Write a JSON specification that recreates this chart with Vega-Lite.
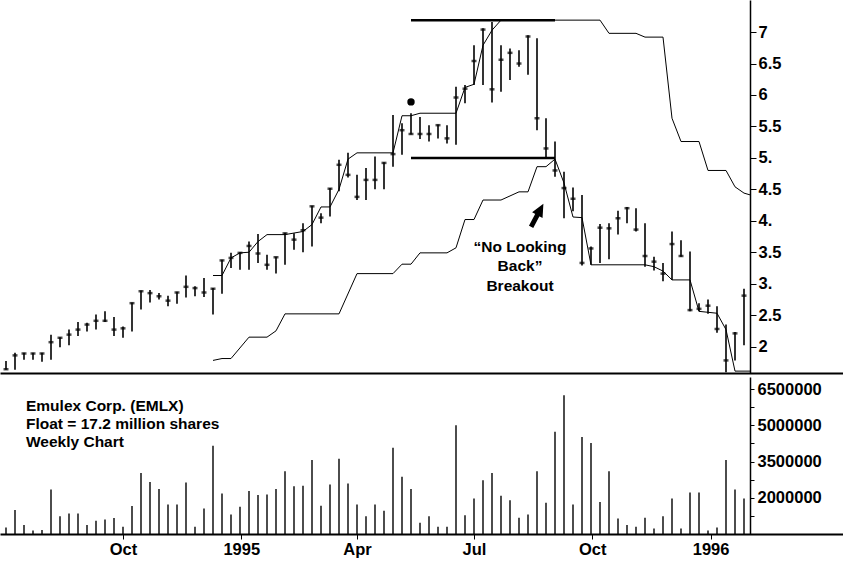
{
  "$schema": "https://vega.github.io/schema/vega-lite/v6.json",
  "padding": 0,
  "background": "white",
  "spacing": 3,
  "config": {
    "view": {"stroke": null},
    "font": "Liberation Sans, Arial, sans-serif",
    "axis": {"grid": false, "domainColor": "black", "tickColor": "black", "labelColor": "black", "labelFont": "Liberation Sans, Arial, sans-serif", "labelFontWeight": "bold", "labelFontSize": 16.5, "title": null, "labelOverlap": false, "labelBound": false}
  },
  "datasets": {
    "bars": [
      {"d": "1994-07-02", "h": 1.77, "l": 1.63, "c": 1.64, "v": 770000},
      {"d": "1994-07-09", "h": 1.90, "l": 1.63, "c": 1.86, "v": 1490000},
      {"d": "1994-07-16", "h": 1.90, "l": 1.79, "c": 1.89, "v": 870000},
      {"d": "1994-07-23", "h": 1.90, "l": 1.79, "c": 1.89, "v": 640000},
      {"d": "1994-07-30", "h": 1.90, "l": 1.76, "c": 1.89, "v": 670000},
      {"d": "1994-08-06", "h": 2.19, "l": 1.79, "c": 2.07, "v": 2340000},
      {"d": "1994-08-13", "h": 2.15, "l": 1.99, "c": 2.14, "v": 1240000},
      {"d": "1994-08-20", "h": 2.27, "l": 2.02, "c": 2.19, "v": 1350000},
      {"d": "1994-08-27", "h": 2.39, "l": 2.17, "c": 2.27, "v": 1350000},
      {"d": "1994-09-03", "h": 2.38, "l": 2.24, "c": 2.35, "v": 870000},
      {"d": "1994-09-10", "h": 2.51, "l": 2.27, "c": 2.41, "v": 1050000},
      {"d": "1994-09-17", "h": 2.56, "l": 2.39, "c": 2.41, "v": 1100000},
      {"d": "1994-09-24", "h": 2.47, "l": 2.17, "c": 2.27, "v": 1160000},
      {"d": "1994-10-01", "h": 2.32, "l": 2.14, "c": 2.29, "v": 800000},
      {"d": "1994-10-08", "h": 2.70, "l": 2.24, "c": 2.69, "v": 1660000},
      {"d": "1994-10-15", "h": 2.89, "l": 2.59, "c": 2.88, "v": 3030000},
      {"d": "1994-10-22", "h": 2.90, "l": 2.70, "c": 2.85, "v": 2650000},
      {"d": "1994-10-29", "h": 2.85, "l": 2.75, "c": 2.80, "v": 2360000},
      {"d": "1994-11-05", "h": 2.81, "l": 2.64, "c": 2.73, "v": 1720000},
      {"d": "1994-11-12", "h": 2.87, "l": 2.68, "c": 2.86, "v": 1720000},
      {"d": "1994-11-19", "h": 3.13, "l": 2.78, "c": 2.95, "v": 2630000},
      {"d": "1994-11-26", "h": 2.96, "l": 2.80, "c": 2.93, "v": 800000},
      {"d": "1994-12-03", "h": 3.09, "l": 2.79, "c": 2.86, "v": 1560000},
      {"d": "1994-12-10", "h": 2.93, "l": 2.51, "c": 2.92, "v": 4150000},
      {"d": "1994-12-17", "h": 3.38, "l": 2.84, "c": 3.37, "v": 2180000},
      {"d": "1994-12-24", "h": 3.49, "l": 3.25, "c": 3.41, "v": 1310000},
      {"d": "1994-12-31", "h": 3.50, "l": 3.22, "c": 3.49, "v": 1630000},
      {"d": "1995-01-07", "h": 3.67, "l": 3.22, "c": 3.60, "v": 2280000},
      {"d": "1995-01-14", "h": 3.79, "l": 3.33, "c": 3.48, "v": 2110000},
      {"d": "1995-01-21", "h": 3.46, "l": 3.22, "c": 3.30, "v": 2140000},
      {"d": "1995-01-28", "h": 3.43, "l": 3.16, "c": 3.42, "v": 2360000},
      {"d": "1995-02-04", "h": 3.81, "l": 3.30, "c": 3.80, "v": 3100000},
      {"d": "1995-02-11", "h": 3.80, "l": 3.54, "c": 3.70, "v": 2480000},
      {"d": "1995-02-18", "h": 3.96, "l": 3.50, "c": 3.85, "v": 2500000},
      {"d": "1995-02-25", "h": 4.24, "l": 3.59, "c": 4.23, "v": 3560000},
      {"d": "1995-03-04", "h": 4.12, "l": 3.96, "c": 4.05, "v": 1670000},
      {"d": "1995-03-11", "h": 4.52, "l": 4.07, "c": 4.51, "v": 2550000},
      {"d": "1995-03-18", "h": 4.97, "l": 4.47, "c": 4.89, "v": 3620000},
      {"d": "1995-03-25", "h": 5.08, "l": 4.69, "c": 4.73, "v": 2590000},
      {"d": "1995-04-01", "h": 4.73, "l": 4.33, "c": 4.38, "v": 1720000},
      {"d": "1995-04-08", "h": 4.84, "l": 4.33, "c": 4.65, "v": 1240000},
      {"d": "1995-04-15", "h": 5.02, "l": 4.50, "c": 4.65, "v": 1720000},
      {"d": "1995-04-22", "h": 4.93, "l": 4.50, "c": 4.92, "v": 1460000},
      {"d": "1995-04-29", "h": 5.68, "l": 4.86, "c": 5.06, "v": 4070000},
      {"d": "1995-05-06", "h": 5.55, "l": 5.05, "c": 5.44, "v": 2870000},
      {"d": "1995-05-13", "h": 5.71, "l": 5.37, "c": 5.38, "v": 2360000},
      {"d": "1995-05-20", "h": 5.65, "l": 5.30, "c": 5.38, "v": 970000},
      {"d": "1995-05-27", "h": 5.52, "l": 5.26, "c": 5.38, "v": 1240000},
      {"d": "1995-06-03", "h": 5.53, "l": 5.31, "c": 5.52, "v": 800000},
      {"d": "1995-06-10", "h": 5.52, "l": 5.23, "c": 5.31, "v": 800000},
      {"d": "1995-06-17", "h": 6.13, "l": 5.21, "c": 5.96, "v": 5000000},
      {"d": "1995-06-24", "h": 6.16, "l": 5.87, "c": 6.10, "v": 1280000},
      {"d": "1995-07-01", "h": 6.79, "l": 6.16, "c": 6.54, "v": 1970000},
      {"d": "1995-07-08", "h": 7.06, "l": 6.16, "c": 7.04, "v": 2730000},
      {"d": "1995-07-15", "h": 7.16, "l": 5.88, "c": 6.09, "v": 3030000},
      {"d": "1995-07-22", "h": 6.79, "l": 6.05, "c": 6.56, "v": 2080000},
      {"d": "1995-07-29", "h": 6.74, "l": 6.24, "c": 6.67, "v": 1900000},
      {"d": "1995-08-05", "h": 6.71, "l": 6.45, "c": 6.50, "v": 1170000},
      {"d": "1995-08-12", "h": 6.95, "l": 6.32, "c": 6.93, "v": 1310000},
      {"d": "1995-08-19", "h": 6.90, "l": 5.44, "c": 5.63, "v": 3100000},
      {"d": "1995-08-26", "h": 5.63, "l": 5.00, "c": 5.15, "v": 1790000},
      {"d": "1995-09-02", "h": 5.26, "l": 4.70, "c": 4.80, "v": 4730000},
      {"d": "1995-09-09", "h": 4.78, "l": 4.04, "c": 4.52, "v": 6240000},
      {"d": "1995-09-16", "h": 4.53, "l": 4.15, "c": 4.35, "v": 1720000},
      {"d": "1995-09-23", "h": 4.41, "l": 3.29, "c": 3.33, "v": 4520000},
      {"d": "1995-09-30", "h": 3.59, "l": 3.30, "c": 3.56, "v": 4270000},
      {"d": "1995-10-07", "h": 3.95, "l": 3.33, "c": 3.89, "v": 1830000},
      {"d": "1995-10-14", "h": 3.96, "l": 3.39, "c": 3.88, "v": 3100000},
      {"d": "1995-10-21", "h": 4.16, "l": 3.78, "c": 4.04, "v": 1140000},
      {"d": "1995-10-28", "h": 4.22, "l": 3.96, "c": 4.20, "v": 870000},
      {"d": "1995-11-04", "h": 4.20, "l": 3.83, "c": 3.86, "v": 800000},
      {"d": "1995-11-11", "h": 3.96, "l": 3.27, "c": 3.44, "v": 1170000},
      {"d": "1995-11-18", "h": 3.43, "l": 3.21, "c": 3.35, "v": 730000},
      {"d": "1995-11-25", "h": 3.33, "l": 3.04, "c": 3.16, "v": 1240000},
      {"d": "1995-12-02", "h": 3.83, "l": 3.06, "c": 3.63, "v": 1970000},
      {"d": "1995-12-09", "h": 3.69, "l": 3.43, "c": 3.44, "v": 730000},
      {"d": "1995-12-16", "h": 3.51, "l": 2.56, "c": 2.58, "v": 2220000},
      {"d": "1995-12-23", "h": 2.69, "l": 2.56, "c": 2.60, "v": 2220000},
      {"d": "1995-12-30", "h": 2.75, "l": 2.52, "c": 2.65, "v": 640000},
      {"d": "1996-01-06", "h": 2.64, "l": 2.22, "c": 2.28, "v": 770000},
      {"d": "1996-01-13", "h": 2.35, "l": 1.59, "c": 1.78, "v": 3560000},
      {"d": "1996-01-20", "h": 2.23, "l": 1.78, "c": 2.21, "v": 2340000},
      {"d": "1996-01-27", "h": 2.92, "l": 2.02, "c": 2.81, "v": 1970000}
    ],
    "lines": [
      {"s": "A", "d": "1994-12-10", "p": 3.13},
      {"s": "A", "d": "1994-12-17", "p": 3.13},
      {"s": "A", "d": "1994-12-24", "p": 3.41},
      {"s": "A", "d": "1994-12-31", "p": 3.49},
      {"s": "A", "d": "1995-01-07", "p": 3.50},
      {"s": "A", "d": "1995-01-14", "p": 3.67},
      {"s": "A", "d": "1995-01-21", "p": 3.78},
      {"s": "A", "d": "1995-02-04", "p": 3.78},
      {"s": "A", "d": "1995-02-18", "p": 3.83},
      {"s": "A", "d": "1995-02-25", "p": 3.94},
      {"s": "A", "d": "1995-03-04", "p": 4.22},
      {"s": "A", "d": "1995-03-11", "p": 4.22},
      {"s": "A", "d": "1995-03-18", "p": 4.50},
      {"s": "A", "d": "1995-03-25", "p": 4.98},
      {"s": "A", "d": "1995-04-01", "p": 5.08},
      {"s": "A", "d": "1995-04-29", "p": 5.08},
      {"s": "A", "d": "1995-05-06", "p": 5.67},
      {"s": "A", "d": "1995-05-13", "p": 5.67},
      {"s": "A", "d": "1995-05-20", "p": 5.71},
      {"s": "A", "d": "1995-06-17", "p": 5.71},
      {"s": "A", "d": "1995-06-24", "p": 6.12},
      {"s": "A", "d": "1995-07-01", "p": 6.17},
      {"s": "A", "d": "1995-07-08", "p": 6.79},
      {"s": "A", "d": "1995-07-15", "p": 7.03},
      {"s": "A", "d": "1995-07-22", "p": 7.19},
      {"s": "A", "d": "1995-10-07", "p": 7.19},
      {"s": "A", "d": "1995-10-14", "p": 6.98},
      {"s": "A", "d": "1995-11-04", "p": 6.98},
      {"s": "A", "d": "1995-11-11", "p": 6.92},
      {"s": "A", "d": "1995-11-25", "p": 6.92},
      {"s": "A", "d": "1995-12-02", "p": 5.63},
      {"s": "A", "d": "1995-12-09", "p": 5.26},
      {"s": "A", "d": "1995-12-23", "p": 5.26},
      {"s": "A", "d": "1995-12-30", "p": 4.80},
      {"s": "A", "d": "1996-01-13", "p": 4.80},
      {"s": "A", "d": "1996-01-20", "p": 4.54},
      {"s": "A", "d": "1996-01-27", "p": 4.44},
      {"s": "A", "d": "1996-02-01", "p": 4.41},
      {"s": "B", "d": "1994-12-10", "p": 1.78},
      {"s": "B", "d": "1994-12-17", "p": 1.81},
      {"s": "B", "d": "1994-12-24", "p": 1.81},
      {"s": "B", "d": "1995-01-07", "p": 2.15},
      {"s": "B", "d": "1995-01-21", "p": 2.15},
      {"s": "B", "d": "1995-01-28", "p": 2.25},
      {"s": "B", "d": "1995-02-04", "p": 2.52},
      {"s": "B", "d": "1995-03-18", "p": 2.52},
      {"s": "B", "d": "1995-04-01", "p": 3.16},
      {"s": "B", "d": "1995-04-29", "p": 3.16},
      {"s": "B", "d": "1995-05-06", "p": 3.31},
      {"s": "B", "d": "1995-05-13", "p": 3.31},
      {"s": "B", "d": "1995-05-20", "p": 3.49},
      {"s": "B", "d": "1995-06-10", "p": 3.49},
      {"s": "B", "d": "1995-06-17", "p": 3.57},
      {"s": "B", "d": "1995-06-24", "p": 4.02},
      {"s": "B", "d": "1995-07-01", "p": 4.02},
      {"s": "B", "d": "1995-07-08", "p": 4.33},
      {"s": "B", "d": "1995-07-22", "p": 4.33},
      {"s": "B", "d": "1995-08-05", "p": 4.46},
      {"s": "B", "d": "1995-08-12", "p": 4.46},
      {"s": "B", "d": "1995-08-19", "p": 4.86},
      {"s": "B", "d": "1995-08-26", "p": 4.86},
      {"s": "B", "d": "1995-09-02", "p": 4.98},
      {"s": "B", "d": "1995-09-09", "p": 4.60},
      {"s": "B", "d": "1995-09-16", "p": 4.06},
      {"s": "B", "d": "1995-09-23", "p": 4.05},
      {"s": "B", "d": "1995-09-30", "p": 3.30},
      {"s": "B", "d": "1995-11-11", "p": 3.30},
      {"s": "B", "d": "1995-11-18", "p": 3.27},
      {"s": "B", "d": "1995-11-25", "p": 3.20},
      {"s": "B", "d": "1995-12-02", "p": 3.06},
      {"s": "B", "d": "1995-12-16", "p": 3.06},
      {"s": "B", "d": "1995-12-23", "p": 2.56},
      {"s": "B", "d": "1996-01-06", "p": 2.53},
      {"s": "B", "d": "1996-01-13", "p": 2.27},
      {"s": "B", "d": "1996-01-20", "p": 1.61},
      {"s": "B", "d": "1996-02-01", "p": 1.61}
    ],
    "levels": [
      {"d": "1995-05-13", "d2": "1995-09-02", "p": 7.19},
      {"d": "1995-05-13", "d2": "1995-09-02", "p": 5.0}
    ],
    "dot": [{"d": "1995-05-13", "p": 5.89}],
    "arrow": [{"d": "1995-08-19", "p": 4.08}],
    "note": [{"d": "1995-08-05", "p": 3.59, "t": "“No Looking\nBack”\nBreakout"}],
    "label": [{"d": "1994-07-16", "v": 5800000, "t": "Emulex Corp. (EMLX)\nFloat = 17.2 million shares\nWeekly Chart"}]
  },
  "vconcat": [
    {
      "width": 843,
      "height": 373,
      "layer": [
        {
          "data": {"name": "bars"},
          "mark": {"type": "rule", "color": "black", "strokeWidth": 1.6},
          "encoding": {
            "x": {"field": "d", "type": "temporal",
              "scale": {"type": "utc", "domain": [{"year": 1994, "month": 6, "date": 27, "hours": 8, "utc": true}, {"year": 1996, "month": 4, "date": 13, "utc": true}]},
              "axis": {"labels": false, "ticks": false, "domainWidth": 2, "title": null}},
            "y": {"field": "h", "type": "quantitative",
              "scale": {"domain": [1.58, 7.51], "nice": false, "zero": false},
              "axis": {"orient": "right", "offset": -93, "values": [2, 2.5, 3, 3.5, 4, 4.5, 5, 5.5, 6, 6.5, 7], "tickCount": 40, "format": "~g",
                "labelExpr": "datum.value == 5 ? '5.' : datum.value == 4 ? '4.' : datum.value == 3 ? '3.' : datum.label",
                "tickSize": 6, "domainWidth": 1.5, "labelPadding": 2, "labelOverlap": false, "title": null}},
            "y2": {"field": "l"}
          }
        },
        {
          "data": {"name": "bars"},
          "mark": {"type": "tick", "orient": "horizontal", "color": "black", "size": 5, "thickness": 2.5},
          "encoding": {
            "x": {"field": "d", "type": "temporal"},
            "y": {"field": "c", "type": "quantitative"}
          }
        },
        {
          "data": {"name": "lines"},
          "mark": {"type": "line", "color": "black", "strokeWidth": 1},
          "encoding": {
            "x": {"field": "d", "type": "temporal"},
            "y": {"field": "p", "type": "quantitative"},
            "detail": {"field": "s"}
          }
        },
        {
          "data": {"name": "levels", "format": {"parse": {"d": "date", "d2": "date"}}},
          "mark": {"type": "rule", "color": "black", "strokeWidth": 2.5},
          "encoding": {
            "x": {"field": "d", "type": "temporal"},
            "x2": {"field": "d2"},
            "y": {"field": "p", "type": "quantitative"}
          }
        },
        {
          "data": {"name": "dot"},
          "mark": {"type": "point", "shape": "circle", "filled": true, "color": "black", "opacity": 1, "size": 55},
          "encoding": {
            "x": {"field": "d", "type": "temporal"},
            "y": {"field": "p", "type": "quantitative"}
          }
        },
        {
          "data": {"name": "arrow"},
          "mark": {"type": "point", "shape": "arrow", "filled": true, "fill": "black", "stroke": "black", "strokeWidth": 1.5, "opacity": 1, "size": 560, "angle": 28},
          "encoding": {
            "x": {"field": "d", "type": "temporal"},
            "y": {"field": "p", "type": "quantitative"}
          }
        },
        {
          "data": {"name": "note"},
          "mark": {"type": "text", "lineBreak": "\n", "align": "center", "baseline": "middle", "fontSize": 15.5, "fontWeight": "bold", "lineHeight": 19.5, "color": "black", "dx": 1},
          "encoding": {
            "x": {"field": "d", "type": "temporal"},
            "y": {"field": "p", "type": "quantitative"},
            "text": {"field": "t"}
          }
        }
      ]
    },
    {
      "width": 843,
      "height": 157,
      "layer": [
        {
          "data": {"name": "bars"},
          "mark": {"type": "rule", "color": "black", "strokeWidth": 1.4},
          "encoding": {
            "x": {"field": "d", "type": "temporal",
              "scale": {"type": "utc", "domain": [{"year": 1994, "month": 6, "date": 27, "hours": 8, "utc": true}, {"year": 1996, "month": 4, "date": 13, "utc": true}]},
              "axis": {"values": [
                  {"year": 1994, "month": 10, "date": 1, "utc": true},
                  {"year": 1995, "month": 1, "date": 1, "utc": true},
                  {"year": 1995, "month": 4, "date": 1, "utc": true},
                  {"year": 1995, "month": 7, "date": 1, "utc": true},
                  {"year": 1995, "month": 10, "date": 1, "utc": true},
                  {"year": 1996, "month": 1, "date": 1, "utc": true}],
                "tickCount": 40,
                "labelExpr": "utcmonth(datum.value) == 0 ? utcFormat(datum.value, '%Y') : utcFormat(datum.value, '%b')",
                "tickSize": 5, "domainWidth": 2, "labelPadding": 2, "labelFlush": false, "labelOverlap": false, "title": null}},
            "y": {"field": "v", "type": "quantitative",
              "scale": {"domain": [500000, 7000000], "nice": false, "zero": false},
              "axis": {"orient": "right", "offset": -93,
                "values": [1250000, 2000000, 2750000, 3500000, 4250000, 5000000, 5750000, 6500000],
                "tickCount": 40,
                "labelExpr": "datum.value % 1500000 == 500000 ? format(datum.value, 'd') : ''",
                "tickSize": 4, "domainWidth": 1.5, "labelPadding": 3, "labelOverlap": false, "title": null}},
            "y2": {"datum": 500000}
          }
        },
        {
          "data": {"name": "label"},
          "mark": {"type": "text", "lineBreak": "\n", "align": "left", "baseline": "middle", "fontSize": 15.5, "fontWeight": "bold", "lineHeight": 18, "color": "black", "dx": 2},
          "encoding": {
            "x": {"field": "d", "type": "temporal"},
            "y": {"field": "v", "type": "quantitative"},
            "text": {"field": "t"}
          }
        }
      ]
    }
  ]
}
